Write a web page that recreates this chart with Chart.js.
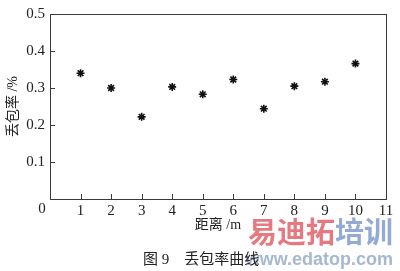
<!DOCTYPE html>
<html>
<head>
<meta charset="utf-8">
<script src="https://cdn.jsdelivr.net/npm/chart.js@4/dist/chart.umd.min.js"></script>
<style>
  html, body { margin: 0; padding: 0; background: #fff; }
  #wrap { width: 400px; height: 271px; }
</style>
</head>
<body>
<div id="wrap"><canvas id="lossChart" width="400" height="271"></canvas></div>
<script>
// 丢包率数据
const distances = [1, 2, 3, 4, 5, 6, 7, 8, 9, 10];
const lossRates = [0.340, 0.300, 0.222, 0.303, 0.283, 0.323, 0.244, 0.305, 0.317, 0.366];
const xTicks = [0, 1, 2, 3, 4, 5, 6, 7, 8, 9, 10, 11];
const yTicks = [0, 0.1, 0.2, 0.3, 0.4, 0.5];

const serif = "'Liberation Serif', 'Noto Sans CJK SC', serif";
const axisColor = '#3a3a3a';

// 外框、向内的刻度线、角落的0、图题和水印
const extras = {
  id: 'extras',
  afterDraw(chart) {
    const { ctx, chartArea: a, scales } = chart;
    ctx.save();
    ctx.strokeStyle = axisColor;
    ctx.lineWidth = 1;
    ctx.strokeRect(a.left + 0.5, a.top + 0.5, a.right - a.left, a.bottom - a.top);

    ctx.beginPath();
    xTicks.slice(1, -1).forEach(v => {
      const px = Math.round(scales.x.getPixelForValue(v)) + 0.5;
      ctx.moveTo(px, a.bottom);
      ctx.lineTo(px, a.bottom - 5);
    });
    yTicks.slice(1, -1).forEach(v => {
      const py = Math.round(scales.y.getPixelForValue(v)) + 0.5;
      ctx.moveTo(a.left, py);
      ctx.lineTo(a.left + 5, py);
    });
    ctx.stroke();

    ctx.fillStyle = '#222';
    ctx.font = '15px ' + serif;
    ctx.textAlign = 'center';
    ctx.textBaseline = 'middle';
    ctx.fillText('0', a.left - 8, a.bottom + 10);

    // 水印
    ctx.textAlign = 'right';
    ctx.font = "bold 29px 'Noto Sans CJK SC', sans-serif";
    const red = '易迪拓';
    const blue = '培训';
    const blueW = ctx.measureText(blue).width;
    ctx.fillStyle = 'rgba(226, 96, 104, 0.85)';
    ctx.fillText(red, 393 - blueW, 232);
    ctx.fillStyle = 'rgba(128, 156, 204, 0.85)';
    ctx.fillText(blue, 393, 232);
    ctx.font = "bold 18px 'Liberation Sans', sans-serif";
    ctx.fillStyle = 'rgba(150, 170, 200, 0.85)';
    ctx.fillText('www.edatop.com', 393, 260);

    // 图题
    ctx.textAlign = 'left';
    ctx.fillStyle = '#222';
    ctx.font = '15px ' + serif;
    ctx.fillText('图 9\u3000丢包率曲线', 143, 260);
    ctx.restore();
  }
};

new Chart(document.getElementById('lossChart'), {
  type: 'scatter',
  data: {
    datasets: [{
      label: '丢包率',
      data: distances.map((d, i) => ({ x: d, y: lossRates[i] })),
      pointStyle: 'star',
      pointRadius: 4,
      borderWidth: 1.6,
      borderColor: '#111',
      backgroundColor: '#111'
    }]
  },
  options: {
    responsive: false,
    animation: false,
    layout: { padding: { left: 0, right: 14, top: 12, bottom: 0 } },
    plugins: {
      legend: { display: false },
      tooltip: { enabled: false }
    },
    scales: {
      x: {
        type: 'linear',
        min: 0,
        max: 11,
        afterBuildTicks: s => { s.ticks = xTicks.map(v => ({ value: v })); },
        afterFit: s => { s.height = 72; },
        ticks: {
          color: '#222',
          font: { family: serif, size: 15 },
          padding: 3,
          maxRotation: 0,
          callback: v => (v === 0 ? '' : String(v))
        },
        grid: { drawOnChartArea: false, drawTicks: false },
        border: { color: axisColor, width: 1 },
        title: {
          display: true,
          text: '距离 /m',
          color: '#222',
          font: { family: serif, size: 14 },
          padding: { top: 0, bottom: 37 }
        }
      },
      y: {
        min: 0,
        max: 0.5,
        afterBuildTicks: s => { s.ticks = yTicks.map(v => ({ value: v })); },
        afterFit: s => { s.width = 50; },
        ticks: {
          color: '#222',
          font: { family: serif, size: 15 },
          padding: 5,
          callback: v => (v === 0 ? '' : v.toFixed(1))
        },
        grid: { drawOnChartArea: false, drawTicks: false },
        border: { color: axisColor, width: 1 },
        title: {
          display: true,
          text: '丢包率 /%',
          color: '#222',
          font: { family: serif, size: 14 },
          padding: { top: 5, bottom: 0 }
        }
      }
    }
  },
  plugins: [extras]
});
</script>
</body>
</html>
